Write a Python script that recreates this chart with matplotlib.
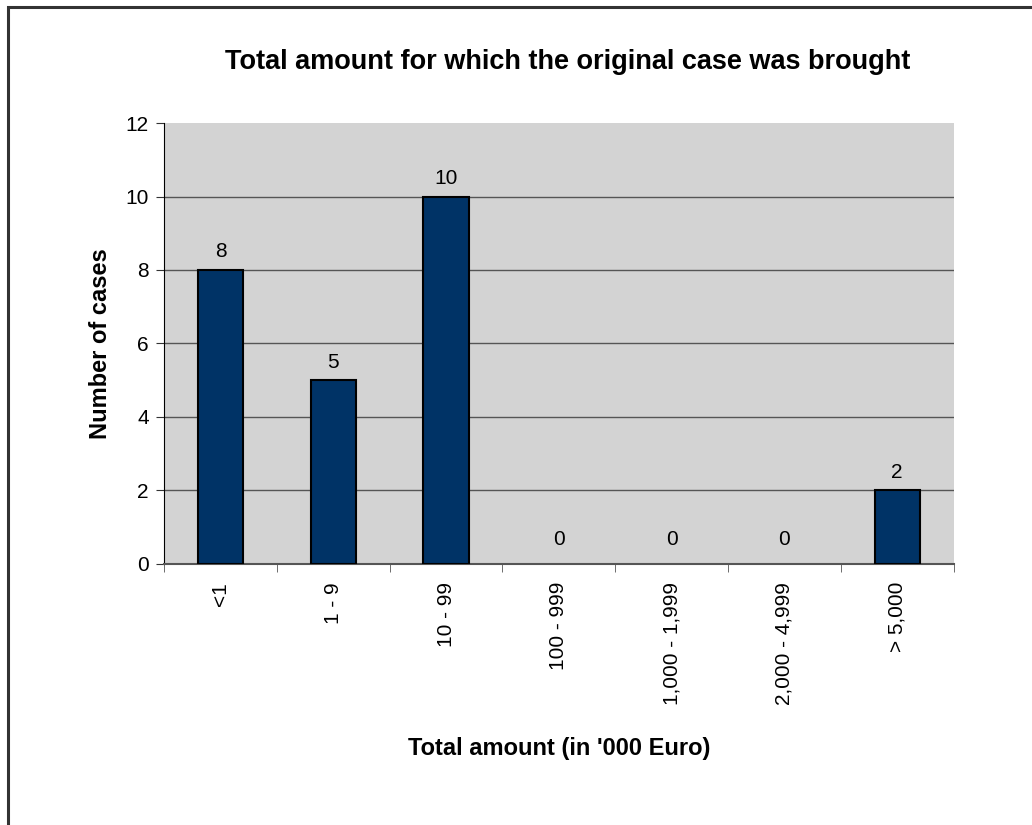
import matplotlib.pyplot as plt
from matplotlib.patches import Rectangle
import numpy as np

plt.rcParams['font.family'] = ['Liberation Sans', 'DejaVu Sans']

categories = ['<1', '1 - 9', '10 - 99', '100 - 999', '1,000 - 1,999',
              '2,000 - 4,999', '> 5,000']
cases = [8, 5, 10, 0, 0, 0, 2]

fig = plt.figure(figsize=(10.32, 8.25), dpi=100)
ax = fig.add_axes([0.159, 0.3164, 0.765, 0.5345])

# outer chart border (right and bottom run off the image)
fig.patches.append(Rectangle((8 / 1032, -0.1), 1.2, 1 - 6.5 / 825 + 0.1,
                             transform=fig.transFigure, fill=False,
                             edgecolor='#333333', linewidth=2.2))

ax.set_facecolor('#d3d3d3')
x = np.arange(len(categories))
edges = ['black' if v else 'none' for v in cases]
ax.bar(x, cases, width=0.4, color='#003366', edgecolor=edges,
       linewidth=1.5, zorder=3)

for xi, v in zip(x, cases):
    ax.annotate(str(v), (xi, v), xytext=(0, 9 if v else 14),
                textcoords='offset points', ha='center', va='baseline',
                fontsize=15)

ax.set_xlim(-0.5, len(categories) - 0.5)
ax.set_ylim(0, 12)
ax.set_yticks(range(0, 13, 2))
for g in range(2, 12, 2):
    ax.axhline(g, color='#555555', linewidth=1.0, zorder=1)

ax.set_xticks(x)
ax.set_xticklabels(categories, rotation=90, fontsize=15, va='top')
ax.set_xticks(np.arange(-0.5, len(categories)), minor=True)
ax.tick_params(axis='x', which='major', length=0, pad=13)
ax.tick_params(axis='x', which='minor', length=6, color='#555555')
ax.tick_params(axis='y', labelsize=15, length=6, pad=5, color='#333333')

for side in ['top', 'right']:
    ax.spines[side].set_visible(False)
ax.spines['left'].set_color('black')
ax.spines['bottom'].set_color('#555555')
ax.spines['bottom'].set_linewidth(1.5)

ax.set_ylabel('Number of cases', fontsize=17, fontweight='bold', labelpad=10)
ax.set_xlabel("Total amount (in '000 Euro)", fontsize=17, fontweight='bold',
              labelpad=23)
fig.text(0.55, 1 - 62 / 825, 'Total amount for which the original case was brought',
         ha='center', va='center', fontsize=19.5, fontweight='bold')

fig.savefig('out.png', dpi=100)
